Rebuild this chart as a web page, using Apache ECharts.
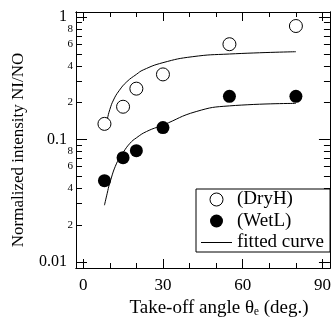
<!DOCTYPE html>
<html>
<head>
<meta charset="utf-8">
<script src="https://cdn.jsdelivr.net/npm/echarts@6/dist/echarts.min.js"></script>
<style>
  html, body { margin: 0; padding: 0; background: #fff; }
  #chart { width: 334px; height: 323px; }
</style>
</head>
<body>
<div id="chart"></div>
<script>
// measured points
const dryH = [[8, 0.134], [15, 0.185], [20, 0.26], [30, 0.34], [55, 0.6], [80, 0.845]];
const wetL = [[8, 0.046], [15, 0.071], [20, 0.081], [30, 0.125], [55, 0.225], [80, 0.225]];

// fitted curves
const fitDry = [[8, 0.12], [9, 0.145], [10, 0.175], [11.4, 0.21], [13.5, 0.25], [16.4, 0.296],
  [20, 0.34], [22.6, 0.37], [30, 0.424], [41, 0.474], [55, 0.499], [80, 0.521]];
const fitWet = [[8, 0.029], [9, 0.036], [10, 0.044], [12.6, 0.064], [15, 0.078], [17.6, 0.093],
  [20, 0.103], [23.8, 0.116], [30, 0.131], [42.5, 0.169], [55, 0.188], [80, 0.197]];

// ticks
const xMajor = [0, 30, 60, 90];
const xMinor = [10, 20, 40, 50, 70, 80];
const yMajor = [0.01, 0.1, 1];
const yMinor = [0.02, 0.03, 0.04, 0.05, 0.06, 0.07, 0.08, 0.09,
  0.2, 0.3, 0.4, 0.5, 0.6, 0.7, 0.8, 0.9];
const yMinorLabels = [0.02, 0.04, 0.06, 0.08, 0.2, 0.4, 0.6, 0.8];

const font = "'Liberation Serif', 'DejaVu Serif', serif";
const black = '#000';
const xMin = -2.7, xMax = 92.8;
const yMin = 0.0089, yMax = 1.1;

const line = { show: true, onZero: false, lineStyle: { color: black, width: 1 } };

function xAxis(pos, ticks, len, labels) {
  return {
    type: 'value', position: pos, min: xMin, max: xMax,
    axisLine: line,
    axisTick: { show: true, inside: true, length: len, customValues: ticks, lineStyle: { color: black } },
    axisLabel: labels
      ? { show: true, customValues: labels, color: black, fontFamily: font, fontSize: 17, margin: 9 }
      : { show: false },
    splitLine: { show: false }
  };
}

function yAxis(pos, ticks, len, label) {
  return {
    type: 'log', position: pos, min: yMin, max: yMax,
    axisLine: line,
    axisTick: { show: true, inside: true, length: len, customValues: ticks, lineStyle: { color: black } },
    axisLabel: label || { show: false },
    splitLine: { show: false },
    minorTick: { show: false }
  };
}

const chart = echarts.init(document.getElementById('chart'), null, { renderer: 'canvas' });

const yLeftMajor = yAxis('left', yMajor, 11, {
  show: true, customValues: yMajor, color: black, fontFamily: font, fontSize: 16, margin: 9,
  formatter: v => String(+(+v).toPrecision(2))
});
yLeftMajor.name = 'Normalized intensity NI/NO';
yLeftMajor.nameLocation = 'middle';
yLeftMajor.nameGap = 49;
yLeftMajor.nameTextStyle = { color: black, fontFamily: font, fontSize: 17, padding: [0, 20, 0, 0] };

const yLeftMinor = yAxis('left', yMinor, 6, {
  show: true, customValues: yMinorLabels, color: black, fontFamily: font, fontSize: 11, margin: 3,
  formatter: v => String(Math.round(v / Math.pow(10, Math.floor(Math.log10(v) + 1e-9))))
});

const xBottom = xAxis('bottom', xMajor, 9, xMajor);
xBottom.name = 'Take-off angle θ\u2091 (deg.)';
xBottom.nameLocation = 'middle';
xBottom.nameGap = 30;
xBottom.nameTextStyle = { color: black, fontFamily: font, fontSize: 19, padding: [0, 0, 0, 32] };

chart.setOption({
  animation: false,
  backgroundColor: '#fff',
  grid: { left: 76, right: 2, top: 12, bottom: 55, containLabel: false },
  legend: {
    orient: 'vertical',
    left: 196, top: 189,
    padding: [1, 6, 0, 5],
    itemGap: 2.5,
    itemWidth: 31, itemHeight: 13,
    borderColor: black, borderWidth: 1, borderRadius: 0,
    backgroundColor: '#fff',
    textStyle: { color: black, fontFamily: font, fontSize: 19, lineHeight: 19 },
    data: [
      { name: '(DryH)', icon: 'circle', itemStyle: { color: '#fff', borderColor: black, borderWidth: 1 } },
      { name: '(WetL)', icon: 'circle', itemStyle: { color: black, borderWidth: 0 } },
      // plain line icon, no marker
      { name: 'fitted curve', icon: 'path://M0,0h0.05v0.05h-0.05z M0,6h31v1h-31z M30.95,12.95h0.05v0.05h-0.05z' }
    ]
  },
  xAxis: [
    xBottom,
    xAxis('bottom', xMinor, 5, null),
    xAxis('top', xMajor, 9, null),
    xAxis('top', xMinor, 5, null)
  ],
  yAxis: [
    yLeftMajor,
    yLeftMinor,
    yAxis('right', yMajor, 11, null),
    yAxis('right', yMinor, 6, null)
  ],
  series: [
    {
      name: '(DryH)', type: 'scatter', data: dryH, symbol: 'circle', symbolSize: 13,
      itemStyle: { color: '#fff', borderColor: black, borderWidth: 1, opacity: 1 }, z: 3
    },
    {
      name: '(WetL)', type: 'scatter', data: wetL, symbol: 'circle', symbolSize: 13,
      itemStyle: { color: black, opacity: 1 }, z: 3
    },
    {
      name: 'fitted curve', type: 'line', data: fitDry, smooth: true, symbol: 'none',
      lineStyle: { color: black, width: 1 }, itemStyle: { color: black }, z: 2
    },
    {
      name: 'fitted curve', type: 'line', data: fitWet, smooth: true, symbol: 'none',
      lineStyle: { color: black, width: 1 }, itemStyle: { color: black }, z: 2
    }
  ]
});
</script>
</body>
</html>
